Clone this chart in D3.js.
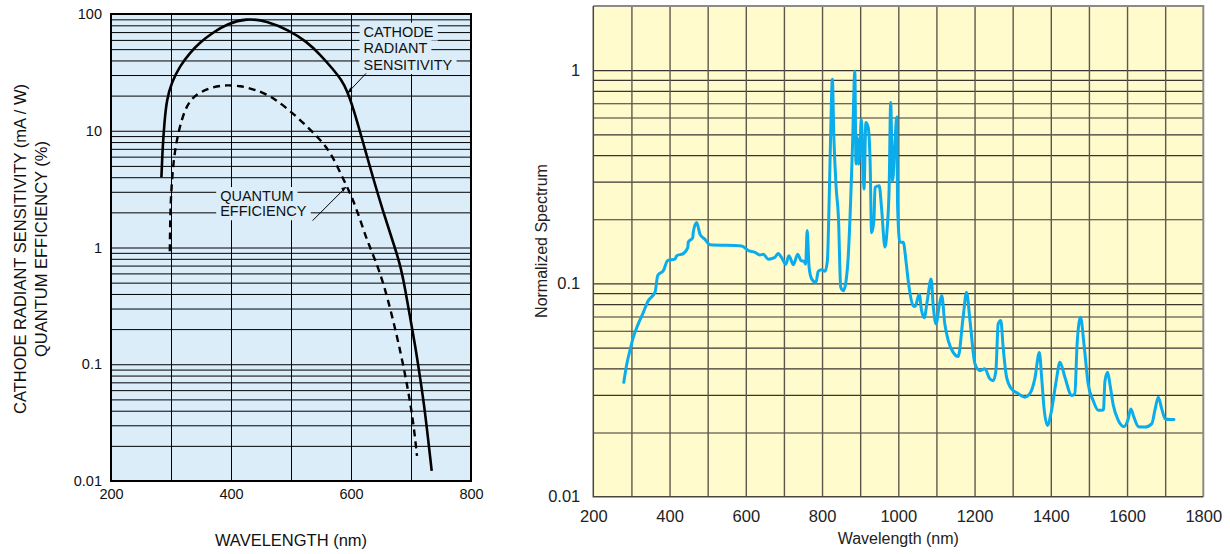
<!DOCTYPE html>
<html><head><meta charset="utf-8">
<script src="https://cdn.jsdelivr.net/npm/d3@7"></script>
<style>
body{margin:0;background:#fff;}
svg{display:block;font-family:"Liberation Sans",Arial,Helvetica,sans-serif;}
</style>
</head><body>
<svg id="c" width="1230" height="554"></svg>
<script>
// ---------- Left chart data ----------
const cathodeWavelength = [284, 285, 286, 289, 293, 301, 315, 332, 348, 370, 393, 426, 459, 498, 526, 548, 570, 584.5, 593, 604, 620.5, 637, 654, 668, 682, 690, 698, 707, 715, 723, 734.5];
const cathodeSensitivity = [4.0, 5.2, 7.0, 11.8, 18.6, 25.9, 36, 46.8, 57, 69.5, 82, 92, 87.3, 72, 58, 45.3, 33.7, 27.1, 22.3, 15.6, 7.82, 3.9, 2.0, 1.2, 0.72, 0.45, 0.26, 0.145, 0.0776, 0.0412, 0.0122];
const qeWavelength = [298, 298.5, 299.5, 304, 312, 323, 335, 348, 370, 393, 415, 439, 472, 515, 548, 568, 587, 601, 615, 626, 640, 654, 670, 684, 695, 704, 710];
const qeEfficiency = [0.93, 1.5, 2.6, 5.7, 9.7, 15.3, 19, 21.3, 23.8, 24.7, 24.2, 22.7, 19.3, 12.5, 8.5, 6.3, 3.85, 2.77, 1.75, 1.18, 0.79, 0.50, 0.243, 0.118, 0.061, 0.0317, 0.0164];
const leftXTicks = [200, 400, 600, 800];
const leftYTicks = [0.01, 0.1, 1, 10, 100];
const leftYTickLabels = ["0.01", "0.1", "1", "10", "100"];
const cathodeLabel = ["CATHODE", "RADIANT", "SENSITIVITY"];
const qeLabel = ["QUANTUM", "EFFICIENCY"];

// ---------- Right chart data ----------
const spectrumWavelength = [280,288,296,305,318,331,344,362,369,384,395,414,419,436,448,449,461,462,471,480,493,506,589,607,624,637,646,659,675,685,694,705,713,725,736,745,753,757,761,766,773,784,790,799,808,814,819,823,827,831,837,843,849,856,863,869,875,880,886,889,892,896,900,903,907,910,915,921,926,930,936,939,950,956,965,971,976,980,985,991,996,998,1004,1013,1020,1026,1039,1044,1055,1061,1068,1076,1086,1092,1099,1108,1114,1122,1131,1144,1157,1170,1179,1188,1201,1214,1227,1240,1249,1256,1262,1269,1275,1284,1297,1315,1332,1345,1358,1370,1376,1382,1391,1402,1414,1424,1437,1455,1463,1469,1478,1487,1498,1511,1525,1538,1542,1549,1555,1564,1577,1592,1602,1610,1618,1630,1647,1665,1673,1682,1691,1700,1713,1723];
const spectrumValue = [0.0344,0.042,0.0484,0.056,0.0646,0.073,0.083,0.091,0.109,0.115,0.128,0.130,0.135,0.138,0.1476,0.156,0.164,0.173,0.193,0.17,0.161,0.152,0.150,0.1425,0.14,0.136,0.137,0.130,0.132,0.138,0.132,0.123,0.135,0.1225,0.137,0.128,0.127,0.123,0.177,0.119,0.105,0.101,0.114,0.116,0.114,0.128,0.262,0.539,0.908,0.483,0.282,0.204,0.096,0.0925,0.103,0.137,0.244,0.45,0.99,0.363,0.483,0.363,0.466,0.589,0.39,0.277,0.568,0.539,0.376,0.173,0.197,0.282,0.287,0.227,0.148,0.183,0.282,0.705,0.303,0.45,0.604,0.236,0.156,0.156,0.128,0.103,0.0787,0.078,0.089,0.0746,0.069,0.083,0.105,0.077,0.0646,0.080,0.0877,0.0646,0.054,0.0475,0.0454,0.0694,0.091,0.067,0.042,0.039,0.0398,0.0357,0.035,0.039,0.0646,0.067,0.0502,0.0363,0.032,0.0304,0.0293,0.0304,0.0357,0.0475,0.0363,0.0263,0.0216,0.0254,0.0348,0.0427,0.0363,0.0298,0.0304,0.052,0.0694,0.052,0.0338,0.0283,0.0254,0.0255,0.0348,0.0383,0.0338,0.0268,0.0228,0.0213,0.0228,0.0258,0.0236,0.0213,0.0212,0.022,0.0254,0.0293,0.0258,0.0232,0.023,0.023];
const rightXTicks = [200, 400, 600, 800, 1000, 1200, 1400, 1600, 1800];
const rightYTicks = [0.01, 0.1, 1];
const rightYTickLabels = ["0.01", "0.1", "1"];

const svg = d3.select("#c");

// ================= LEFT CHART =================
{
  const L = 111, R = 471, T = 14, B = 481;
  const x = d3.scaleLinear().domain([200, 800]).range([L, R]);
  const y = d3.scaleLog().domain([0.01, 100]).range([B, T]);
  const g = svg.append("g");
  g.append("rect").attr("x", L).attr("y", T).attr("width", R - L).attr("height", B - T).attr("fill", "#dcedfa");

  // gridlines
  const hGrid = y.ticks().filter(v => v > 0.01 && v < 100);
  g.append("g").attr("transform", `translate(${L},0)`)
    .call(d3.axisLeft(y).tickValues(hGrid).tickSize(-(R - L)).tickFormat(""))
    .call(s => s.select(".domain").remove())
    .call(s => s.selectAll("line").attr("stroke", "#000").attr("stroke-width", 1));
  g.append("g").attr("transform", `translate(0,${B})`)
    .call(d3.axisBottom(x).tickValues(d3.range(300, 800, 100)).tickSize(-(B - T)).tickFormat(""))
    .call(s => s.select(".domain").remove())
    .call(s => s.selectAll("line").attr("stroke", "#000").attr("stroke-width", 1));

  // annotation labels with background boxes
  function label(lines, xv, yv, dy) {
    const grp = g.append("g");
    lines.forEach((t, i) => {
      const tx = grp.append("text").attr("x", x(xv)).attr("y", y(yv) + i * dy)
        .attr("font-size", 14.5).attr("fill", "#111").text(t);
      const bb = tx.node().getBBox();
      grp.insert("rect", "text").attr("x", bb.x - 4).attr("y", bb.y - 1)
        .attr("width", bb.width + 8).attr("height", bb.height + 2).attr("fill", "#dcedfa");
    });
  }
  label(cathodeLabel, 621, 64, 16.7);
  label(qeLabel, 382, 2.5, 15.2);

  // curves
  g.append("path").datum(d3.zip(cathodeWavelength, cathodeSensitivity))
    .attr("d", d3.line().x(d => x(d[0])).y(d => y(d[1])).curve(d3.curveBasis))
    .attr("fill", "none").attr("stroke", "#000").attr("stroke-width", 2.6);
  g.append("path").datum(d3.zip(qeWavelength, qeEfficiency))
    .attr("d", d3.line().x(d => x(d[0])).y(d => y(d[1])).curve(d3.curveBasis))
    .attr("fill", "none").attr("stroke", "#000").attr("stroke-width", 2.4).attr("stroke-dasharray", "7,5");

  // leader lines
  g.append("line").attr("x1", x(625)).attr("y1", y(31)).attr("x2", x(594)).attr("y2", y(21))
    .attr("stroke", "#000").attr("stroke-width", 1);
  g.append("path").attr("d", `M${x(594)},${y(21)} l5,-2 l-2,-4 z`).attr("fill", "#000");
  g.append("line").attr("x1", x(536)).attr("y1", y(1.7)).attr("x2", x(592)).attr("y2", y(3.3))
    .attr("stroke", "#000").attr("stroke-width", 1);
  g.append("path").attr("d", `M${x(592)},${y(3.3)} l-5,1 l2,4 z`).attr("fill", "#000");

  // border
  g.append("rect").attr("x", L).attr("y", T).attr("width", R - L).attr("height", B - T)
    .attr("fill", "none").attr("stroke", "#000").attr("stroke-width", 2);

  // tick labels
  g.append("g").attr("transform", `translate(${L - 6},0)`)
    .call(d3.axisLeft(y).tickValues(leftYTicks).tickSize(0).tickFormat((d, i) => leftYTickLabels[i]))
    .call(s => s.select(".domain").remove())
    .call(s => s.selectAll("text").attr("font-size", 14.5).attr("font-family", "Liberation Sans, Arial, sans-serif").attr("fill", "#111"));
  g.append("g").attr("transform", `translate(0,${B + 5})`)
    .call(d3.axisBottom(x).tickValues(leftXTicks).tickSize(0).tickFormat(d3.format("d")))
    .call(s => s.select(".domain").remove())
    .call(s => s.selectAll("text").attr("font-size", 14.5).attr("font-family", "Liberation Sans, Arial, sans-serif").attr("fill", "#111"));

  // axis titles
  g.append("text").attr("x", (L + R) / 2).attr("y", 546).attr("text-anchor", "middle")
    .attr("font-size", 16.5).attr("fill", "#111").text("WAVELENGTH (nm)");
  g.append("text").attr("transform", "translate(26,249) rotate(-90)").attr("text-anchor", "middle")
    .attr("font-size", 16.5).attr("fill", "#111").text("CATHODE RADIANT SENSITIVITY (mA / W)");
  g.append("text").attr("transform", "translate(47,249) rotate(-90)").attr("text-anchor", "middle")
    .attr("font-size", 16.5).attr("fill", "#111").text("QUANTUM EFFICIENCY (%)");
}

// ================= RIGHT CHART =================
{
  const L = 593.3, R = 1203.3, T = 6, B = 496.7;
  const x = d3.scaleLinear().domain([200, 1800]).range([L, R]);
  const y = d3.scaleLog().domain([0.01, 2]).range([B, T]);
  const g = svg.append("g");
  g.append("rect").attr("x", L).attr("y", T).attr("width", R - L).attr("height", B - T).attr("fill", "#fffbcd");

  const hGrid = y.ticks().filter(v => v > 0.01 && v <= 1);
  g.append("g").attr("transform", `translate(${L},0)`)
    .call(d3.axisLeft(y).tickValues(hGrid).tickSize(-(R - L)).tickFormat(""))
    .call(s => s.select(".domain").remove())
    .call(s => s.selectAll("line").attr("stroke", "#3a3530").attr("stroke-width", 1.2));
  g.append("g").attr("transform", `translate(0,${B})`)
    .call(d3.axisBottom(x).tickValues(d3.range(300, 1800, 100)).tickSize(-(B - T)).tickFormat(""))
    .call(s => s.select(".domain").remove())
    .call(s => s.selectAll("line").attr("stroke", "#5e584c").attr("stroke-width", 1.4));

  g.append("path").datum(d3.zip(spectrumWavelength, spectrumValue))
    .attr("d", d3.line().x(d => x(d[0])).y(d => y(d[1])).curve(d3.curveMonotoneX))
    .attr("fill", "none").attr("stroke", "#0aaceb").attr("stroke-width", 3)
    .attr("stroke-linejoin", "round").attr("stroke-linecap", "round");

  // border
  g.append("path").attr("d", `M${L},${T}H${R}V${B}`).attr("fill", "none").attr("stroke", "#8c8a85").attr("stroke-width", 2);
  g.append("path").attr("d", `M${L},${T}V${B}H${R}`).attr("fill", "none").attr("stroke", "#4a463e").attr("stroke-width", 1.5);

  g.append("g").attr("transform", `translate(${L - 10},0)`)
    .call(d3.axisLeft(y).tickValues(rightYTicks).tickSize(0).tickFormat((d, i) => rightYTickLabels[i]))
    .call(s => s.select(".domain").remove())
    .call(s => s.selectAll("text").attr("font-size", 16.5).attr("font-family", "Liberation Sans, Arial, sans-serif").attr("fill", "#222"));
  g.append("g").attr("transform", `translate(0,${B + 11})`)
    .call(d3.axisBottom(x).tickValues(rightXTicks).tickSize(0).tickFormat(d3.format("d")))
    .call(s => s.select(".domain").remove())
    .call(s => s.selectAll("text").attr("font-size", 16.5).attr("font-family", "Liberation Sans, Arial, sans-serif").attr("fill", "#222"));

  g.append("text").attr("x", (L + R) / 2).attr("y", 544).attr("text-anchor", "middle")
    .attr("font-size", 16).attr("fill", "#222").text("Wavelength (nm)");
  g.append("text").attr("transform", "translate(547,241) rotate(-90)").attr("text-anchor", "middle")
    .attr("font-size", 16).attr("fill", "#222").text("Normalized Spectrum");
}
</script>
</body></html>
